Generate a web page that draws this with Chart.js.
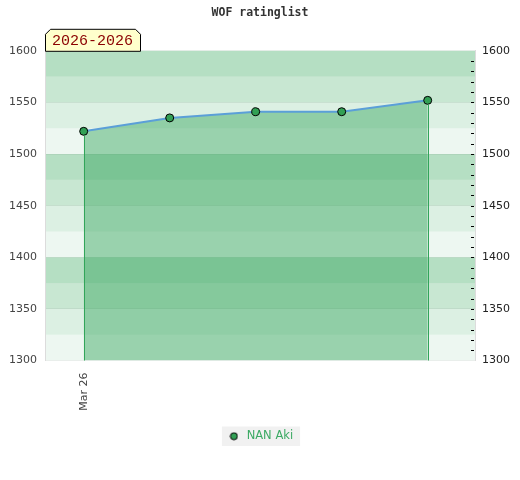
<!DOCTYPE html>
<html>
<head>
<meta charset="utf-8">
<script src="https://cdn.jsdelivr.net/npm/chart.js@4.4.1/dist/chart.umd.min.js"></script>
<style>
  html, body { margin: 0; padding: 0; background: #ffffff; }
  #wrap { width: 520px; height: 480px; }
</style>
</head>
<body>
<div id="wrap"><canvas id="c" width="520" height="480"></canvas></div>
<script>
// ---- data ----
const chartTitle = 'WOF ratinglist';
const periodLabel = '2026-2026';
const seriesName = 'NAN Aki';
const gameIndex = [0, 1, 2, 3, 4];
const ratings = [1522, 1535, 1541, 1541, 1552];
const xTickValues = [0];
const xTickLabels = ['Mar 26'];
const yMin = 1300;
const yMax = 1600;
const yLabelStep = 50;
const yMinorStep = 10;
const bandStep = 25;

// ---- styles ----
const green = 'rgb(50,165,90)';
const bandAlphas = [0.085, 0.17, 0.27, 0.36]; // from lowest band in each 100 upwards

const points = gameIndex.map((x, i) => ({ x: x, y: ratings[i] }));

// legend marker: small green circle with black outline
const legendDot = document.createElement('canvas');
legendDot.width = 9; legendDot.height = 9;
(function () {
  const c = legendDot.getContext('2d');
  c.beginPath();
  c.arc(4.5, 4.5, 3.5, 0, Math.PI * 2);
  c.fillStyle = 'rgb(50,160,85)';
  c.fill();
  c.lineWidth = 1;
  c.strokeStyle = '#000';
  c.stroke();
})();

const bandsPlugin = {
  id: 'bands',
  beforeDraw(chart) {
    const { ctx, chartArea } = chart;
    const y = chart.scales.y;
    ctx.save();
    ctx.fillStyle = '#ffffff';
    ctx.fillRect(chartArea.left, chartArea.top, chartArea.right - chartArea.left, chartArea.bottom - chartArea.top);
    for (let v = yMin; v < yMax; v += bandStep) {
      const idx = Math.round(((v - yMin) % 100) / bandStep);
      const top = y.getPixelForValue(v + bandStep);
      const bot = y.getPixelForValue(v);
      ctx.fillStyle = 'rgba(50,165,90,' + bandAlphas[idx] + ')';
      ctx.fillRect(chartArea.left, top, chartArea.right - chartArea.left, bot - top);
    }
    // legend background
    const lg = chart.legend;
    if (lg && lg.legendHitBoxes && lg.legendHitBoxes.length) {
      const hb = lg.legendHitBoxes[0];
      ctx.fillStyle = '#f1f1f1';
      ctx.fillRect(hb.left - 5, hb.top - 4, hb.width + 12, hb.height + 8);
    }
    ctx.restore();
  },
  afterDatasetsDraw(chart) {
    const { ctx, chartArea } = chart;
    const meta = chart.getDatasetMeta(0);
    const els = meta.data;
    if (!els.length) return;
    ctx.save();
    ctx.strokeStyle = green;
    ctx.lineWidth = 1;
    [els[0], els[els.length - 1]].forEach(p => {
      const px = Math.round(p.x) + 0.5;
      ctx.beginPath();
      ctx.moveTo(px, p.y + 4);
      ctx.lineTo(px, chartArea.bottom);
      ctx.stroke();
    });
    ctx.restore();
  },
  afterDraw(chart) {
    const { ctx, chartArea } = chart;
    // minor tick marks on right axis, inside the plot
    const y2 = chart.scales.y2;
    ctx.save();
    ctx.strokeStyle = '#000';
    ctx.lineWidth = 1;
    y2.ticks.forEach(t => {
      if (t.value <= yMin || t.value >= yMax) return;
      const py = Math.round(y2.getPixelForValue(t.value)) + 0.5;
      ctx.beginPath();
      ctx.moveTo(chartArea.right - 4, py);
      ctx.lineTo(chartArea.right - 1, py);
      ctx.stroke();
    });
    // period label box
    const l = chartArea.left, b = chartArea.top;
    const w = 95, h = 22, cut = 5;
    ctx.beginPath();
    ctx.moveTo(l + 0.5, b + 0.5);
    ctx.lineTo(l + 0.5, b - h + cut + 0.5);
    ctx.lineTo(l + cut + 0.5, b - h + 0.5);
    ctx.lineTo(l + w - cut + 0.5, b - h + 0.5);
    ctx.lineTo(l + w + 0.5, b - h + cut + 0.5);
    ctx.lineTo(l + w + 0.5, b + 0.5);
    ctx.closePath();
    ctx.fillStyle = '#ffffcc';
    ctx.fill();
    ctx.strokeStyle = '#000';
    ctx.stroke();
    ctx.fillStyle = '#8b0000';
    ctx.font = '15px "Liberation Mono", "DejaVu Sans Mono", monospace';
    ctx.textBaseline = 'middle';
    ctx.textAlign = 'left';
    ctx.fillText(periodLabel, l + 7, b - h / 2 + 1);
    ctx.restore();
  }
};

new Chart(document.getElementById('c'), {
  type: 'line',
  data: {
    datasets: [{
      label: seriesName,
      data: points,
      borderColor: '#5b9fd8',
      borderWidth: 2,
      backgroundColor: 'rgba(50,165,90,0.45)',
      fill: 'start',
      tension: 0,
      pointRadius: 4,
      pointHoverRadius: 4,
      pointBackgroundColor: 'rgb(50,160,85)',
      pointBorderColor: '#000',
      pointBorderWidth: 1,
      pointStyle: 'circle'
    }]
  },
  plugins: [bandsPlugin],
  options: {
    responsive: false,
    animation: false,
    layout: { padding: { left: 0, right: 0, top: 0, bottom: 28 } },
    scales: {
      x: {
        type: 'linear',
        min: gameIndex[0] - 0.45,
        max: gameIndex[gameIndex.length - 1] + 0.55,
        afterBuildTicks(scale) {
          scale.ticks = xTickValues.map(v => ({ value: v }));
        },
        afterFit(scale) { scale.height = 60; },
        grid: { display: false, drawTicks: false },
        border: { display: false },
        ticks: {
          minRotation: 90,
          maxRotation: 90,
          autoSkip: false,
          padding: 12,
          color: '#444',
          font: { family: 'DejaVu Sans', size: 11 },
          callback(value) {
            const i = xTickValues.indexOf(value);
            return i >= 0 ? xTickLabels[i] : '';
          }
        }
      },
      y: {
        position: 'left',
        min: yMin,
        max: yMax,
        afterFit(scale) { scale.width = 45; },
        grid: { color: 'rgba(0,0,0,0.05)', drawTicks: false },
        border: { display: true, color: '#dcdcdc' },
        ticks: {
          stepSize: yLabelStep,
          padding: 8,
          color: '#444',
          font: { family: 'DejaVu Sans', size: 11 },
          callback(value) { return String(value); }
        }
      },
      y2: {
        position: 'right',
        min: yMin,
        max: yMax,
        afterFit(scale) { scale.width = 45; },
        grid: { display: false, drawTicks: false },
        border: { display: true, color: '#dcdcdc' },
        ticks: {
          stepSize: yMinorStep,
          autoSkip: false,
          padding: 7,
          color: '#222',
          font: { family: 'DejaVu Sans', size: 11 },
          callback(value) { return value % yLabelStep === 0 ? String(value) : ''; }
        }
      }
    },
    plugins: {
      title: {
        display: true,
        text: chartTitle,
        color: '#333',
        font: { family: 'DejaVu Sans Mono', size: 11.5, weight: 'bold' },
        padding: { top: 6, bottom: 31 }
      },
      legend: {
        display: true,
        position: 'bottom',
        labels: {
          usePointStyle: true,
          pointStyle: legendDot,
          pointStyleWidth: 14,
          boxHeight: 9,
          padding: 10,
          color: 'rgb(60,170,100)',
          font: { family: 'DejaVu Sans', size: 11.5 }
        }
      },
      tooltip: { enabled: false }
    }
  }
});
</script>
</body>
</html>
